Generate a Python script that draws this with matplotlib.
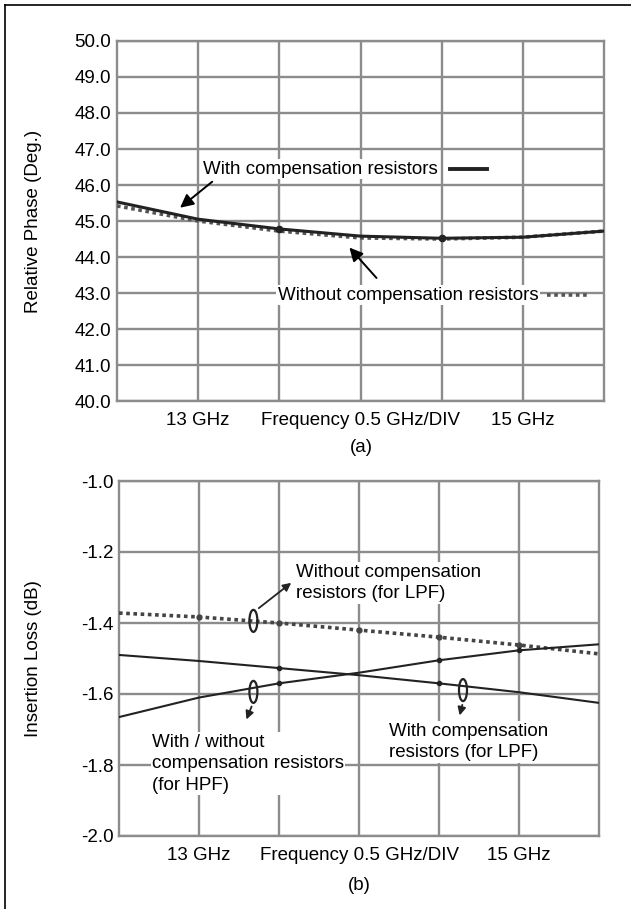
import matplotlib
matplotlib.use("Agg")
import matplotlib.pyplot as plt
from matplotlib.patches import Ellipse
from matplotlib.lines import Line2D

plt.rcParams['font.family'] = ['Liberation Sans', 'DejaVu Sans']

# ---- data ----
freq = [12.5, 13.0, 13.5, 14.0, 14.5, 15.0, 15.5]
xtick_pos = [13.0, 13.5, 14.0, 14.5, 15.0]
xtick_labels = ['13 GHz', '', 'Frequency 0.5 GHz/DIV', '', '15 GHz']

phase_with = [45.53, 45.05, 44.78, 44.58, 44.52, 44.55, 44.72]
phase_without = [45.42, 45.00, 44.72, 44.53, 44.50, 44.55, 44.72]
phase_yticks = [40.0, 41.0, 42.0, 43.0, 44.0, 45.0, 46.0, 47.0, 48.0, 49.0, 50.0]

il_without_lpf = [-1.372, -1.383, -1.400, -1.420, -1.440, -1.462, -1.487]
il_with_lpf = [-1.490, -1.507, -1.527, -1.547, -1.570, -1.595, -1.625]
il_hpf = [-1.665, -1.610, -1.570, -1.540, -1.505, -1.477, -1.460]
il_yticks = [-2.0, -1.8, -1.6, -1.4, -1.2, -1.0]

GRID = '#8c8c8c'
FS = 13.5
LS = 1.35

fig = plt.figure(figsize=(6.31, 9.09), dpi=100)
fig.patch.set_facecolor('white')

# outer frame (top and left)
fig.add_artist(Line2D([5/631, 1.0], [1 - 5/909, 1 - 5/909], transform=fig.transFigure, color='black', lw=1.2))
fig.add_artist(Line2D([5/631, 5/631], [0.0, 1 - 5/909], transform=fig.transFigure, color='black', lw=1.2))

ax1 = fig.add_axes([117/631, 1 - 401/909, 487/631, 360/909])
ax2 = fig.add_axes([119/631, 1 - 836/909, 480/631, 355/909])

def style(ax, yticks, fmt, ylabel):
    ax.set_xlim(12.5, 15.5)
    ax.set_ylim(yticks[0], yticks[-1])
    ax.set_yticks(yticks)
    ax.set_yticklabels([fmt.format(v) for v in yticks], fontsize=FS)
    ax.set_xticks(xtick_pos)
    ax.set_xticklabels(xtick_labels, fontsize=FS)
    ax.tick_params(length=0, pad=4)
    ax.tick_params(axis='x', pad=8)
    ax.grid(True, color=GRID, lw=1.7)
    ax.set_axisbelow(True)
    for s in ax.spines.values():
        s.set_color(GRID)
        s.set_linewidth(1.7)
    ax.set_ylabel(ylabel, fontsize=FS)

style(ax1, phase_yticks, '{:.1f}', 'Relative Phase (Deg.)')
style(ax2, il_yticks, '{:.1f}', 'Insertion Loss (dB)')
ax1.yaxis.set_label_coords((42 - 117) / 487, 0.5)
ax2.yaxis.set_label_coords((42 - 119) / 480, 0.5)

# ---- top panel ----
ax1.plot(freq, phase_without, color='#555555', lw=2.6, ls=(0, (1, 1)), zorder=3)
ax1.plot(freq, phase_with, color='#222222', lw=2.2, zorder=4,
         marker='o', markersize=4.5, markevery=[2, 4])

tb = dict(facecolor='white', edgecolor='none', pad=1)
ax1.text(13.03, 46.44, 'With compensation resistors', fontsize=FS, va='center', ha='left', bbox=tb, zorder=6)
ax1.plot([14.55, 14.78], [46.44, 46.44], color='#222222', lw=2.8, zorder=6)
ax1.annotate('', xy=(12.875, 45.32), xytext=(13.10, 46.14),
             arrowprops=dict(arrowstyle='-|>', color='black', lw=1.4, mutation_scale=20), zorder=6)

ax1.text(13.49, 42.94, 'Without compensation resistors', fontsize=FS, va='center', ha='left', bbox=tb, zorder=6)
ax1.plot([15.15, 15.41], [42.94, 42.94], color='#555555', lw=2.6, ls=(0, (1, 1)), zorder=6)
ax1.annotate('', xy=(13.92, 44.32), xytext=(14.11, 43.36),
             arrowprops=dict(arrowstyle='-|>', color='black', lw=1.4, mutation_scale=20), zorder=6)

fig.text(361/631, 1 - 447/909, '(a)', fontsize=FS, ha='center', va='center')

# ---- bottom panel ----
ax2.plot(freq, il_without_lpf, color='#444444', lw=2.6, ls=(0, (1, 1)), zorder=3,
         marker='o', markersize=3.5, markevery=[1, 2, 3, 4, 5])
ax2.plot(freq, il_with_lpf, color='#222222', lw=1.5, zorder=4,
         marker='o', markersize=3, markevery=[2, 4])
ax2.plot(freq, il_hpf, color='#222222', lw=1.5, zorder=4,
         marker='o', markersize=3, markevery=[2, 4, 5])

for (cx, cy) in [(13.34, -1.394), (13.34, -1.594), (14.65, -1.589)]:
    ax2.add_patch(Ellipse((cx, cy), 0.05, 0.062, facecolor='none', edgecolor='#222222', lw=1.6, zorder=5))

ap = dict(arrowstyle='-|>', color='#222222', lw=1.3, mutation_scale=12)
ax2.annotate('', xy=(13.59, -1.282), xytext=(13.36, -1.363), arrowprops=ap, zorder=5)
ax2.annotate('', xy=(13.29, -1.679), xytext=(13.335, -1.628), arrowprops=ap, zorder=5)
ax2.annotate('', xy=(14.625, -1.668), xytext=(14.65, -1.623), arrowprops=ap, zorder=5)

ax2.text(13.606, -1.233, 'Without compensation\nresistors (for LPF)', fontsize=FS,
         va='top', ha='left', bbox=tb, zorder=6, linespacing=LS)
ax2.text(12.706, -1.712, 'With / without\ncompensation resistors\n(for HPF)', fontsize=FS,
         va='top', ha='left', bbox=tb, zorder=6, linespacing=LS)
ax2.text(14.19, -1.681, 'With compensation\nresistors (for LPF)', fontsize=FS,
         va='top', ha='left', bbox=tb, zorder=6, linespacing=LS)

fig.text(359/631, 1 - 885/909, '(b)', fontsize=FS, ha='center', va='center')

fig.savefig('out.png', dpi=100, facecolor='white')
